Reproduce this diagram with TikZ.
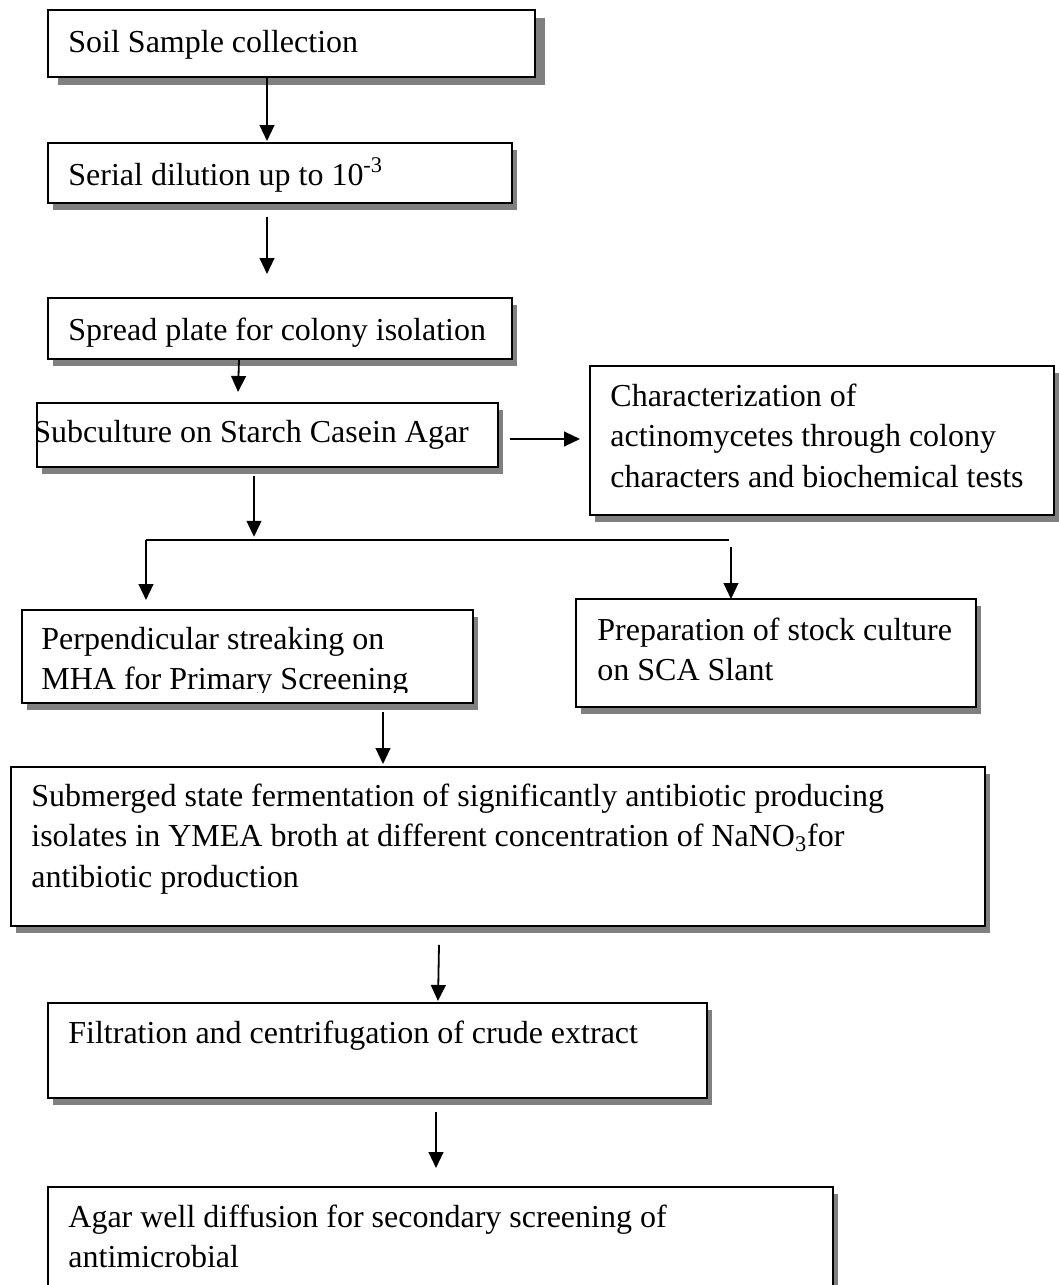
\documentclass[tikz,border=0pt]{standalone}
\usepackage{fontspec}
\setmainfont{Liberation Serif}
\usetikzlibrary{positioning}
\usetikzlibrary{calc}
\usetikzlibrary{shadows}
\usetikzlibrary{arrows.meta}
\definecolor{shadowgray}{rgb}{0.5, 0.5, 0.5}
\newcommand{\boxlines}[1]{\begin{tabular}[t]{@{}l@{}}#1\end{tabular}}

\begin{document}
\begin{tikzpicture}[x=0.5pt, y=-0.5pt,
    plainbox/.style={draw, fill=white, line width=0.9pt, inner sep=0pt, anchor=north west},
    box/.style={plainbox, general shadow={fill=shadowgray, shadow xshift=2.5pt, shadow yshift=-3.5pt}},
    txt/.style={anchor=base west, inner sep=0pt, font=\fontsize{16}{20.25}\selectfont},
    arr/.style={-{Triangle[length=8pt, width=7.4pt]}, line width=0.9pt}]
    \useasboundingbox (0,0) rectangle (1059,1285);

    \node[plainbox, general shadow={fill=shadowgray, shadow xshift=5pt, shadow yshift=-4pt}, minimum width=243.5pt, minimum height=33.5pt] (soil) at (47,9) {};
    \node[box, minimum width=232pt, minimum height=30pt] (dil) at (47,142) {};
    \node[box, minimum width=232pt, minimum height=30.5pt] (spread) at (47,297) {};
    \node[box, minimum width=230.5pt, minimum height=32pt] (sub) at (36,402) {};
    \node[box, minimum width=232pt, minimum height=74.5pt] (char) at (589,365) {};
    \node[box, minimum width=225.5pt, minimum height=46.5pt] (perp) at (21,609) {};
    \node[box, minimum width=200pt, minimum height=54pt] (prep) at (575,598) {};
    \node[box, minimum width=487pt, minimum height=79.5pt] (subm) at (10,766) {};
    \node[box, minimum width=329.5pt, minimum height=47.5pt] (filt) at (47,1002) {};
    \node[box, minimum width=392.5pt, minimum height=60pt] (agar) at (47,1186) {};

    \node[txt] (soiltxt) at ($(soil.north west)+(21,44)$) {Soil Sample collection};
    \node[txt] (diltxt) at ($(dil.north west)+(21,43)$) {Serial dilution up to 10\textsuperscript{-3}};
    \node[txt] (spreadtxt) at ($(spread.north west)+(21,43)$) {Spread plate for colony isolation};
    \begin{scope}
        \clip (sub.north west) rectangle (sub.south east);
        \node[txt] (subtxt) at ($(sub.north west)+(-3,40)$) {Subculture on Starch Casein Agar};
    \end{scope}
    \node[txt] (chartxt) at ($(char.north west)+(21,41)$) {\boxlines{Characterization of\\actinomycetes through colony\\characters and biochemical tests}};
    \begin{scope}
        \clip (perp.north west) rectangle ($(perp.south east)+(0,-11)$);
        \node[txt] (perptxt) at ($(perp.north west)+(20,40)$) {\boxlines{Perpendicular streaking on\\MHA for Primary Screening}};
    \end{scope}
    \node[txt] (preptxt) at ($(prep.north west)+(22,42)$) {\boxlines{Preparation of stock culture\\on SCA Slant}};
    \node[txt] (submtxt) at ($(subm.north west)+(21,40)$) {\boxlines{Submerged state fermentation of significantly antibiotic producing\\isolates in YMEA broth at different concentration of NaNO\textsubscript{3}for\\antibiotic production}};
    \node[txt] (filttxt) at ($(filt.north west)+(21,41)$) {Filtration and centrifugation of crude extract};
    \node[txt] (agartxt) at ($(agar.north west)+(21,41)$) {\boxlines{Agar well diffusion for secondary screening of\\antimicrobial}};

    \coordinate (splitL) at ($(perp.north west)+(125,-69)$);
    \coordinate (splitR) at ($(prep.north west)+(154,-58)$);

    \draw[arr] ($(soil.south west)+(220,0)$) -- ($(dil.north west)+(220,-1)$);
    \draw[arr] ($(dil.south west)+(220,13)$) -- ($(spread.north west)+(220,-23)$);
    \draw[arr] ($(spread.south west)+(192,0)$) -- ($(sub.north west)+(202,-10)$);
    \draw[arr] ($(sub.north east)+(11,37)$) -- ($(char.north west)+(-9,74)$);
    \draw[arr] ($(sub.south west)+(218,8)$) -- ($(sub.south west)+(218,69)$);
    \draw[line width=0.6pt] (splitL) -- (splitR);
    \draw[arr] (splitL) -- ($(perp.north west)+(125,-9)$);
    \draw[arr] ($(splitR)+(2,7)$) -- ($(prep.north west)+(156,1)$);
    \draw[arr] ($(perp.south west)+(362,8)$) -- ($(subm.north west)+(373,-2)$);
    \draw[arr] ($(subm.south west)+(429,18)$) -- ($(filt.north west)+(391,-1)$);
    \draw[arr] ($(filt.south west)+(389,13)$) -- ($(agar.north west)+(389,-18)$);
\end{tikzpicture}
\end{document}
